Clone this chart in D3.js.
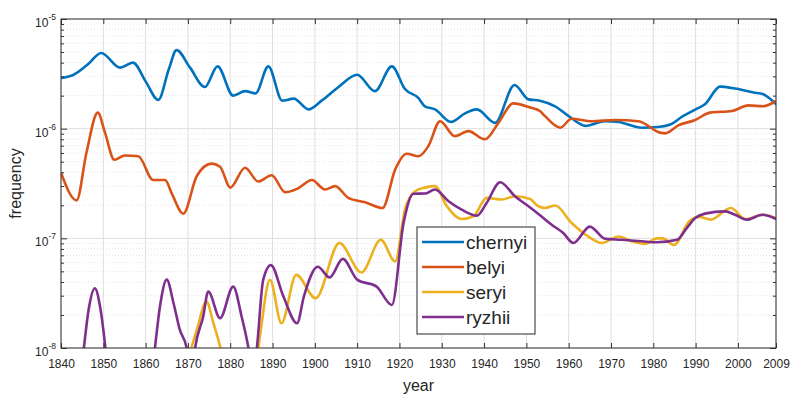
<!DOCTYPE html>
<html>
<head>
<meta charset="utf-8">
<script src="https://cdn.jsdelivr.net/npm/d3@7"></script>
<style>
  body { margin: 0; background: #fff; }
  text { font-family: "Liberation Sans", Arial, Helvetica, sans-serif; fill: #262626; }
</style>
</head>
<body>
<div id="chart"></div>
<script>
// ---- data ----
const seriesNames = ["chernyi", "belyi", "seryi", "ryzhii"];
const seriesColors = ["#0072BD", "#D95319", "#EDB120", "#7E2F8E"];

const chernyiYears = [1840, 1843, 1846.5, 1849.5, 1854, 1857, 1860, 1863, 1865.5, 1867.3, 1870.5, 1874, 1877, 1880.7, 1883.5, 1886, 1889, 1892.3, 1895, 1898.5, 1901.6, 1905.6, 1910, 1914.2, 1918.2, 1921.3, 1924.5, 1926, 1928.4, 1932.2, 1935.5, 1938.3, 1942.6, 1947.2, 1950.5, 1953.2, 1956.8, 1960, 1964, 1968.6, 1971.8, 1977.3, 1981.6, 1984, 1987, 1990, 1992.2, 1995.8, 1999.3, 2003.7, 2006, 2009];
const chernyi = [2.9e-6, 3.1e-6, 3.9e-6, 4.9e-6, 3.6e-6, 4.0e-6, 2.7e-6, 1.83e-6, 3.5e-6, 5.2e-6, 3.6e-6, 2.4e-6, 3.7e-6, 2.0e-6, 2.2e-6, 2.1e-6, 3.7e-6, 1.8e-6, 1.88e-6, 1.5e-6, 1.8e-6, 2.4e-6, 3.1e-6, 2.2e-6, 3.7e-6, 2.3e-6, 1.9e-6, 1.6e-6, 1.5e-6, 1.15e-6, 1.38e-6, 1.5e-6, 1.13e-6, 2.5e-6, 1.85e-6, 1.8e-6, 1.6e-6, 1.3e-6, 1.06e-6, 1.17e-6, 1.15e-6, 1.02e-6, 1.04e-6, 1.09e-6, 1.3e-6, 1.5e-6, 1.67e-6, 2.42e-6, 2.32e-6, 2.14e-6, 2.06e-6, 1.67e-6];

const belyiYears = [1840, 1843.7, 1846, 1848.7, 1850.4, 1852.6, 1855.1, 1858.3, 1861.8, 1864.6, 1866.3, 1868.9, 1872.1, 1875.6, 1877.6, 1880, 1883.5, 1886.6, 1889.8, 1893, 1896, 1899.3, 1902.4, 1904.8, 1907.9, 1911.9, 1916, 1919, 1921.7, 1924.5, 1926.8, 1929.6, 1933.1, 1936.3, 1940.2, 1943.4, 1946.9, 1950.9, 1953.2, 1954.4, 1958, 1960.7, 1965.4, 1971, 1976.5, 1981.6, 1982.8, 1985.9, 1989.9, 1993.4, 1998.6, 2002.5, 2006, 2009];
const belyi = [3.96e-7, 2.22e-7, 6.0e-7, 1.4e-6, 9.2e-7, 5.2e-7, 5.7e-7, 5.6e-7, 3.4e-7, 3.4e-7, 2.5e-7, 1.68e-7, 3.7e-7, 4.8e-7, 4.5e-7, 2.9e-7, 4.4e-7, 3.3e-7, 3.76e-7, 2.63e-7, 2.85e-7, 3.4e-7, 2.79e-7, 2.99e-7, 2.34e-7, 2.13e-7, 1.89e-7, 4.25e-7, 5.9e-7, 5.6e-7, 6.9e-7, 1.17e-6, 8.55e-7, 9.5e-7, 8.0e-7, 1.13e-6, 1.7e-6, 1.56e-6, 1.45e-6, 1.3e-6, 1.02e-6, 1.23e-6, 1.17e-6, 1.2e-6, 1.17e-6, 9.2e-7, 9.06e-7, 1.07e-6, 1.2e-6, 1.4e-6, 1.45e-6, 1.63e-6, 1.6e-6, 1.79e-6];

const seryiYears = [1869, 1870.5, 1872.1, 1874.4, 1876, 1877.6, 1878.5, 1885.8, 1887, 1889.4, 1892.1, 1895.6, 1900.2, 1905.8, 1911, 1915.6, 1919, 1921.3, 1923.7, 1926, 1928.4, 1931.2, 1934.7, 1937.5, 1940.6, 1944.2, 1947.3, 1950.9, 1952.5, 1954.4, 1956.8, 1960.7, 1964.6, 1967.8, 1971.8, 1974.9, 1978.1, 1980.8, 1982.2, 1984.9, 1988.5, 1990.8, 1993.6, 1998.3, 2001.8, 2005.8, 2009];
const seryi = [5e-9, 9e-9, 1.46e-8, 2.65e-8, 1.7e-8, 1.03e-8, 7e-9, 6e-9, 1.27e-8, 4.18e-8, 1.68e-8, 4.64e-8, 2.84e-8, 9.06e-8, 4.88e-8, 9.7e-8, 6.15e-8, 1.83e-7, 2.69e-7, 2.9e-7, 2.99e-7, 1.96e-7, 1.5e-7, 1.59e-7, 2.34e-7, 2.26e-7, 2.42e-7, 2.28e-7, 2.0e-7, 1.89e-7, 1.99e-7, 1.38e-7, 1.04e-7, 9.06e-8, 1.04e-7, 9.4e-8, 8.9e-8, 1.0e-7, 1.0e-7, 8.7e-8, 1.43e-7, 1.57e-7, 1.48e-7, 1.89e-7, 1.5e-7, 1.64e-7, 1.53e-7];

const ryzhiiYears = [1844.5, 1845.4, 1846.5, 1848, 1849.3, 1850.5, 1851.3, 1861.3, 1862.2, 1863.4, 1865, 1866.6, 1868.1, 1869.7, 1870.5, 1871, 1871.7, 1873.6, 1874.8, 1877.6, 1880.7, 1882.7, 1884.3, 1885.2, 1885.6, 1886.3, 1887.8, 1889.6, 1892.5, 1895.8, 1897.4, 1900.7, 1903.5, 1906.6, 1910, 1914.6, 1918.2, 1921, 1923.3, 1926, 1928.4, 1931.6, 1934.7, 1938.3, 1940.6, 1943.8, 1947.3, 1950.5, 1953, 1956, 1958.7, 1961.1, 1965, 1968.6, 1972.5, 1977.3, 1980.8, 1985.6, 1987.9, 1989.9, 1992.2, 1997, 1999.3, 2002.1, 2005.8, 2009];
const ryzhii = [5e-9, 1e-8, 2.2e-8, 3.5e-8, 2.3e-8, 1e-8, 5e-9, 5e-9, 1e-8, 2.4e-8, 4.2e-8, 2.56e-8, 1.46e-8, 1e-8, 6e-9, 6e-9, 1e-8, 1.93e-8, 3.27e-8, 1.87e-8, 3.63e-8, 1.93e-8, 1e-8, 6e-9, 6e-9, 1e-8, 4.2e-8, 5.7e-8, 3.0e-8, 1.68e-8, 2.94e-8, 5.5e-8, 4.4e-8, 6.5e-8, 4.2e-8, 3.63e-8, 2.47e-8, 1.4e-7, 2.55e-7, 2.56e-7, 2.79e-7, 2.18e-7, 1.83e-7, 1.61e-7, 2.1e-7, 3.25e-7, 2.42e-7, 1.96e-7, 1.65e-7, 1.33e-7, 1.12e-7, 9.06e-8, 1.28e-7, 9.9e-8, 9.7e-8, 9.4e-8, 9.2e-8, 9.7e-8, 1.24e-7, 1.53e-7, 1.68e-7, 1.76e-7, 1.64e-7, 1.48e-7, 1.64e-7, 1.5e-7];

const xTickValues = [1840, 1850, 1860, 1870, 1880, 1890, 1900, 1910, 1920, 1930, 1940, 1950, 1960, 1970, 1980, 1990, 2000, 2009];
const yTickExponents = [-8, -7, -6, -5];

// ---- layout ----
const margin = {top: 19, right: 16, bottom: 48, left: 61};
const width = 792 - margin.left - margin.right;
const height = 348 - margin.top;

const svg = d3.select("#chart").append("svg")
  .attr("width", 792)
  .attr("height", 396);
const g = svg.append("g")
  .attr("transform", "translate(" + margin.left + "," + margin.top + ")");

const x = d3.scaleLinear().domain([1840, 2009]).range([0, width]);
const y = d3.scaleLog().domain([1e-8, 1e-5]).range([height, 0]);

const majors = yTickExponents.map(e => Math.pow(10, e));
const minors = [];
yTickExponents.slice(0, -1).forEach(e => {
  for (let k = 2; k <= 9; k++) minors.push(k * Math.pow(10, e));
});

// grid
g.append("g").selectAll("line")
  .data(minors)
  .join("line")
    .attr("x1", 0).attr("x2", width)
    .attr("y1", d => y(d)).attr("y2", d => y(d))
    .attr("stroke", "#dcdcdc")
    .attr("stroke-dasharray", "1,2")
    .attr("stroke-width", 0.8);
g.append("g").selectAll("line")
  .data(majors)
  .join("line")
    .attr("x1", 0).attr("x2", width)
    .attr("y1", d => y(d)).attr("y2", d => y(d))
    .attr("stroke", "#dedede")
    .attr("stroke-width", 1);
g.append("g").selectAll("line")
  .data(xTickValues)
  .join("line")
    .attr("x1", d => x(d)).attr("x2", d => x(d))
    .attr("y1", 0).attr("y2", height)
    .attr("stroke", "#dedede")
    .attr("stroke-width", 1);

// lines
g.append("clipPath").attr("id", "clip")
  .append("rect").attr("width", width).attr("height", height);

const allSeries = [
  {years: chernyiYears, vals: chernyi},
  {years: belyiYears, vals: belyi},
  {years: seryiYears, vals: seryi},
  {years: ryzhiiYears, vals: ryzhii}
];

const line = d3.line()
  .x(d => x(d[0]))
  .y(d => y(d[1]))
  .curve(d3.curveMonotoneX);

g.append("g").attr("clip-path", "url(#clip)")
  .selectAll("path")
  .data(allSeries)
  .join("path")
    .attr("fill", "none")
    .attr("stroke", (d, i) => seriesColors[i])
    .attr("stroke-width", 2.6)
    .attr("stroke-linejoin", "round")
    .attr("d", d => line(d.years.map((yr, i) => [yr, d.vals[i]])));

// axes (ticks inside, MATLAB style)
const axisColor = "#333";
function styleAxis(sel) {
  sel.select(".domain").remove();
  sel.selectAll(".tick line").attr("stroke", axisColor);
}

g.append("g")
  .attr("transform", "translate(0," + height + ")")
  .call(d3.axisBottom(x).tickValues(xTickValues).tickFormat(d3.format("d"))
    .tickSizeInner(-5).tickSizeOuter(0).tickPadding(11))
  .call(styleAxis)
  .selectAll("text").style("font-size", "12px");

g.append("g")
  .call(d3.axisTop(x).tickValues(xTickValues).tickFormat("").tickSizeInner(-5).tickSizeOuter(0))
  .call(styleAxis);

g.append("g")
  .call(d3.axisLeft(y).tickValues(majors).tickFormat("").tickSizeInner(-6).tickSizeOuter(0))
  .call(styleAxis);
g.append("g")
  .call(d3.axisLeft(y).tickValues(minors).tickFormat("").tickSizeInner(-3).tickSizeOuter(0))
  .call(styleAxis);
g.append("g")
  .attr("transform", "translate(" + width + ",0)")
  .call(d3.axisRight(y).tickValues(majors).tickFormat("").tickSizeInner(-6).tickSizeOuter(0))
  .call(styleAxis);
g.append("g")
  .attr("transform", "translate(" + width + ",0)")
  .call(d3.axisRight(y).tickValues(minors).tickFormat("").tickSizeInner(-3).tickSizeOuter(0))
  .call(styleAxis);

// y tick labels 10^e
const yLab = g.append("g").selectAll("text")
  .data(yTickExponents)
  .join("text")
    .attr("x", -5)
    .attr("y", d => y(Math.pow(10, d)) + 8)
    .attr("text-anchor", "end")
    .style("font-size", "12px");
yLab.append("tspan").text("10");
yLab.append("tspan")
  .attr("dy", -7)
  .style("font-size", "8.5px")
  .text(d => "-" + Math.abs(d));

// box
g.append("rect")
  .attr("width", width).attr("height", height)
  .attr("fill", "none")
  .attr("stroke", axisColor)
  .attr("stroke-width", 1);

// axis labels
svg.append("text")
  .attr("x", margin.left + width / 2)
  .attr("y", 391)
  .attr("text-anchor", "middle")
  .style("font-size", "16px")
  .text("year");

svg.append("text")
  .attr("transform", "translate(21," + (margin.top + height / 2) + ") rotate(-90)")
  .attr("text-anchor", "middle")
  .style("font-size", "16px")
  .text("frequency");

// legend
const legend = svg.append("g").attr("transform", "translate(417,227)");
legend.append("rect")
  .attr("width", 118).attr("height", 107)
  .attr("fill", "#fff")
  .attr("stroke", "#262626")
  .attr("stroke-width", 1);
const items = legend.selectAll(".item")
  .data(seriesNames)
  .join("g")
    .attr("class", "item")
    .attr("transform", (d, i) => "translate(0," + (15 + i * 25) + ")");
items.append("line")
  .attr("x1", 5).attr("x2", 47)
  .attr("stroke", (d, i) => seriesColors[i])
  .attr("stroke-width", 2.6);
items.append("text")
  .attr("x", 49)
  .attr("dy", "0.35em")
  .style("font-size", "19px")
  .text(d => d);
</script>
</body>
</html>
